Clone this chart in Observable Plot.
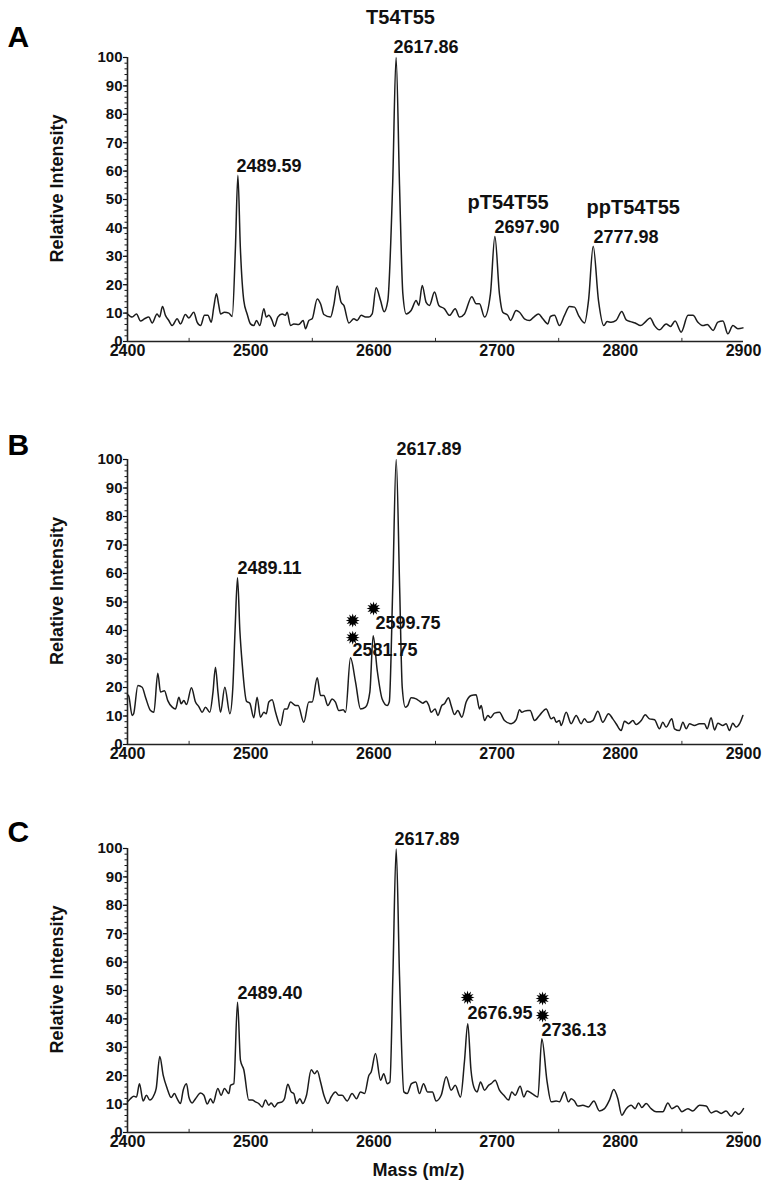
<!DOCTYPE html>
<html>
<head>
<meta charset="utf-8">
<script src="https://cdn.jsdelivr.net/npm/d3@7"></script>
<script src="https://cdn.jsdelivr.net/npm/@observablehq/plot@0.6"></script>
<style>
  html, body { margin: 0; padding: 0; background: #fff; }
  #chart { width: 768px; }
  #chart svg { display: block; }
</style>
</head>
<body>
<div id="chart"></div>
<script>
// ---------- data ----------
const xTicks = [2400, 2500, 2600, 2700, 2800, 2900];
const xMinorTicks = [2450, 2550, 2650, 2750, 2850];
const yTicks = [0, 10, 20, 30, 40, 50, 60, 70, 80, 90, 100];
const yMinorTicks = d3.range(0, 101, 2);

const spectrumA = [
  [2400,9.7],[2403.8,8.6],[2407.3,9.7],[2410.6,7.2],[2413.8,8.0],[2417.3,8.6],[2420,6.5],[2424,9.7],[2426,8.6],[2428.4,12.3],
  [2430.8,9.2],[2433.5,7.4],[2436.3,5.6],[2440.3,8.0],[2443,6.2],[2447,9.5],[2449.8,8.3],[2453.8,10.3],[2456.5,6.8],[2459.3,5.6],
  [2462.5,9.2],[2465.2,9.2],[2468,6.8],[2470,12],[2472.2,16.8],[2474,13],[2475.5,9.7],[2478.7,10.3],[2482.3,10],[2485,8.8],
  [2487.6,33],[2489.6,58.5],[2491.6,33],[2494.4,14.4],[2497.1,9.7],[2499.8,6.2],[2502.5,5.6],[2504.7,7.4],[2507.4,5.6],[2510.7,11.5],
  [2512.6,8.6],[2514.7,9.2],[2517.4,7.4],[2519.3,5.3],[2522,8.6],[2525.5,9.7],[2528.2,9.2],[2529.6,10.3],[2532.3,5.6],[2535,6.2],
  [2539,6.0],[2542.6,7.4],[2544.5,4.5],[2547.2,7.4],[2549.9,8.0],[2554,15],[2556.7,13.3],[2559.4,9.5],[2564.8,8.6],[2567.5,13],
  [2570.2,19.5],[2573.4,13.8],[2575.6,12.7],[2579.7,6.5],[2583.7,8.0],[2586.4,7.4],[2589.7,9.2],[2593.2,8.6],[2595.9,8.6],[2598.6,9.7],
  [2601.8,18.9],[2605.4,14.4],[2608.3,10.5],[2611.3,14.4],[2615.2,55],[2618,100],[2620.8,55],[2623.5,16.8],[2626.2,9.7],[2630.2,10.9],
  [2634.3,14.4],[2636.5,12.7],[2639.2,19.7],[2642.4,13.8],[2645.1,12.7],[2649.2,17.4],[2652.7,12.7],[2657.3,11.5],[2661.4,9.2],[2666,11.5],
  [2669.5,8.6],[2673.5,9.7],[2679.5,15.8],[2683,13.3],[2685.7,13.3],[2689.8,8.6],[2694.6,16.8],[2698.2,37],[2701.9,16.8],[2704.6,10.3],
  [2708.7,9.2],[2710.9,7.4],[2715.5,10.9],[2718.2,10.3],[2722.2,8.0],[2726.3,7.4],[2729.8,8.6],[2733.6,9.7],[2737.1,8.0],[2741.2,6.2],
  [2743.3,8.8],[2746.6,9.2],[2750.6,5.6],[2754.7,9.2],[2758.8,12.3],[2762.8,12.1],[2766.1,9.2],[2771,6.5],[2774.2,14.4],[2778,33.5],
  [2782.3,14.4],[2786.6,5.6],[2789.3,7.0],[2792.6,6.8],[2796.6,7.4],[2801.2,10.6],[2804.8,7.6],[2808.3,7.0],[2812.1,6.5],[2816.4,5.6],
  [2820.2,6.8],[2824.2,8.3],[2827.8,5.6],[2831.8,4.1],[2837.2,6.2],[2840.7,5.3],[2844.5,7.2],[2849.4,3.3],[2855,9.2],[2859,9.2],
  [2863,6.8],[2867.2,5.6],[2870.6,6.0],[2875.3,3.9],[2879.2,6.8],[2883.3,7.2],[2887.3,2.7],[2891.4,5.6],[2895.4,4.5],[2899.5,4.8]
];

const spectrumB = [
  [2400,17.5],[2401,17],[2403.8,10.2],[2405,10.8],[2408.4,20.7],[2411.9,20.1],[2414.6,16.6],[2418.7,11.9],[2421.4,11.3],[2424.6,25],
  [2426.8,18.4],[2430,18.9],[2432.7,15.4],[2436.3,13.1],[2439,12.5],[2441.7,16.6],[2443.6,14.3],[2445.7,15.4],[2447.9,14],[2451.9,19.9],
  [2455.2,14.9],[2457.9,13.3],[2460.6,11.3],[2463.3,13.1],[2466.8,11.3],[2469.3,18],[2471.4,27.1],[2473.5,18],[2475.5,11.3],[2479,20.1],
  [2483.1,10.8],[2485.5,20],[2487.3,40],[2489.3,58.5],[2491.2,40],[2493.1,28.3],[2496.6,15.2],[2499.3,14.5],[2502.5,9.4],[2505.2,16.6],
  [2507.9,9.6],[2510.7,11.3],[2512.6,10.8],[2514.7,14.9],[2517.4,15.7],[2520.2,11.3],[2524.2,6.7],[2527.4,12.5],[2529.6,12.5],[2532.3,14.9],
  [2536.4,13.7],[2538.5,13.7],[2543.1,7.8],[2547.2,14.9],[2549.9,14.9],[2554,23.4],[2556.7,17.2],[2559.4,17.2],[2562.6,13.7],[2566.1,16],
  [2568.8,14.9],[2571.5,11.9],[2575.1,12.2],[2577,11.3],[2581,30.4],[2585.1,21.9],[2589.1,12.5],[2593.2,13.1],[2596.7,18.4],[2599.4,38.2],
  [2602.7,26],[2606.7,16],[2610.8,13.7],[2612.5,15],[2615.3,55],[2618.1,100],[2620.9,55],[2623,20],[2625.5,13.1],[2627.5,13.7],
  [2630.2,16.4],[2634.3,16],[2637,15.2],[2639.7,14.5],[2642.4,15.2],[2644.6,13.7],[2646.5,11.3],[2649.7,12.5],[2651.9,10.2],[2655.1,13.7],
  [2657.3,14.3],[2660.5,16.4],[2662.7,13.7],[2665.4,10.5],[2668.1,11.9],[2671.4,9.6],[2674.9,14.9],[2679,17.2],[2683,17.5],[2685.7,12.5],
  [2687.1,13.7],[2689.8,8.4],[2692.5,10.2],[2694.6,9.4],[2697.9,11],[2701.9,11.3],[2706,8.4],[2711.4,7.3],[2715.5,8.7],[2718.2,12.2],
  [2720.1,11.3],[2722.2,11.7],[2725,11.9],[2726.8,11.9],[2730.4,8.4],[2734.4,10.2],[2739.8,12.5],[2743.9,9],[2746.1,9.6],[2748,7.8],
  [2750.6,8.4],[2752,6.7],[2756.1,11.3],[2760.1,7.3],[2764.2,10.2],[2768.2,7.3],[2770.9,9],[2773.6,7.8],[2777.7,8.4],[2781.8,11.7],
  [2785.8,7.8],[2790.4,10.8],[2793.9,9],[2796.6,7.3],[2800.7,4.9],[2803.4,8.2],[2806.7,7.3],[2810.2,8.4],[2812.9,7],[2817,8.4],
  [2820.2,10.4],[2823.7,9],[2827.8,8.7],[2831.8,5.5],[2834.5,7.8],[2837.2,6.1],[2841.8,9],[2844,5.5],[2848,4.9],[2850.8,7.8],
  [2853.5,5.5],[2856.2,7.3],[2860.2,6.7],[2864.3,7.3],[2868.3,7.3],[2870.5,5.5],[2873.7,9.4],[2876.5,5.1],[2879.2,7.5],[2883.2,6.7],
  [2885.9,7.3],[2888.6,4.9],[2891.3,7.5],[2894,6.1],[2896.8,7.3],[2899.5,10.2]
];

const spectrumC = [
  [2400,10.8],[2402.4,11.9],[2405.1,12.8],[2407.3,12.5],[2409.7,17.2],[2412.7,11.1],[2415.4,13.1],[2418.1,11.4],[2421.4,13.1],[2423.3,15.5],
  [2426.2,26.8],[2429,20.1],[2432.2,15.5],[2435.4,12.3],[2438.1,13.7],[2440.3,11.9],[2443,10.2],[2445.2,14.9],[2447.9,17.2],[2449.8,12.5],
  [2452.5,10.4],[2455.2,11.9],[2459.3,13.9],[2462,13.1],[2464.7,10],[2467.4,11.9],[2469.5,10.4],[2473.3,15.5],[2476,13.1],[2478.7,15.5],
  [2482.3,13.7],[2483.6,16.6],[2486.3,17.2],[2489.3,45.9],[2491.7,25.4],[2494.4,22.1],[2498.5,11.4],[2501.2,11.4],[2503.9,10.8],[2506.6,10.2],
  [2509.3,9],[2512,11.4],[2514.7,9.6],[2516.6,10.4],[2519.3,9],[2522,10.4],[2525.5,10.8],[2527.4,11.9],[2530.1,17],[2532.8,14.3],
  [2535,13.7],[2537.2,10.2],[2539.9,11.9],[2542.3,10.2],[2545.3,13.1],[2549.1,22.1],[2551.8,20.7],[2554,21.7],[2556.7,17.8],[2559.4,13.1],
  [2562.6,10.2],[2565.3,12.5],[2568.8,14.3],[2571.5,13.1],[2574.2,13.1],[2578.3,11.1],[2582.3,13.7],[2585.9,11.9],[2589.1,14.3],[2592.4,13.7],
  [2595.9,20.1],[2597.8,21.3],[2601.3,27.8],[2605.4,18.4],[2608,20.7],[2610.8,17.2],[2613,17.8],[2615.4,55],[2618.1,99.8],[2620.8,55],
  [2624.3,14.3],[2627,13.7],[2630.5,17.2],[2634,17.8],[2637,13.7],[2640.3,17.2],[2643.5,14.3],[2647.5,14.3],[2650.5,11.1],[2654.6,13.1],
  [2658.7,19.6],[2662.7,14.9],[2666,16.6],[2670.3,12.5],[2673.5,25],[2676.2,38.3],[2678.8,22],[2681.1,16],[2683.8,14.3],[2686.5,17.8],
  [2689.8,14.9],[2693,16.6],[2695.2,17.2],[2698.4,18.4],[2701.9,14.9],[2705.5,13.1],[2709.3,11.4],[2711.9,14.3],[2714.7,13.1],[2718.7,16.3],
  [2721.7,12.5],[2724.4,14.6],[2729,13.5],[2733.1,12.5],[2736.3,33],[2740.6,17.8],[2743.9,10.8],[2747.9,11.1],[2750.6,10.8],[2754.7,14.3],
  [2757.9,10.8],[2760.1,11.9],[2762.8,11.1],[2765.5,9.3],[2769.6,9.6],[2774.2,9],[2778.5,11.1],[2783.1,7.6],[2787.2,8.4],[2791.2,11.4],
  [2794.7,15.1],[2798,11.9],[2801.2,6.1],[2804.8,8.4],[2808.8,9.6],[2812.1,8.4],[2814.8,10.4],[2817.5,8.8],[2821,10.2],[2825,8.4],
  [2829.1,7.3],[2834.5,7.3],[2838.6,10.4],[2841.8,8.4],[2846.2,9.3],[2850,7.3],[2854.8,8.4],[2858.9,7.6],[2864.3,9.6],[2869.7,9.3],
  [2873.8,6.9],[2877.8,7.6],[2881.9,6.7],[2885.9,7.6],[2890,5.7],[2893.3,7.3],[2896,6.4],[2900,8.4]
];

// peak labels: [mass at label's left edge, intensity at label centre, text]
const massLabelsA = [[2615.9,103.5,"2617.86"],[2488.5,61.6,"2489.59"],[2697.9,40.1,"2697.90"],[2778.3,36.6,"2777.98"]];
const peptideLabelsA = [[2676,48.9,"pT54T55"],[2772.6,47.2,"ppT54T55"]];
const titleLabelsA = [[2621.6,114,"T54T55"]];
const massLabelsB = [[2618.3,103.5,"2617.89"],[2489.3,61.8,"2489.11"],[2601.3,42.5,"2599.75"],[2582.6,33,"2581.75"]];
const massLabelsC = [[2616.7,103.2,"2617.89"],[2489.3,48.9,"2489.40"],[2676,41.9,"2676.95"],[2736,35.9,"2736.13"]];
// asterisk-like markers: [mass, intensity]
const starsB = [[2582.8,43.5],[2582.8,37.5],[2599.7,47.7]];
const starsC = [[2676,47.5],[2736.9,47.2],[2736.9,41.2]];

// ---------- drawing ----------
const FONT = "'Liberation Sans', Arial, Helvetica, sans-serif";

const burst = {
  draw(context, size) {
    const R = Math.sqrt(size / Math.PI), r = R * 0.55, n = 12;
    for (let i = 0; i < 2 * n; i++) {
      const a = (i * Math.PI) / n - Math.PI / 2;
      const rr = i % 2 === 0 ? R : r;
      const x = rr * Math.cos(a), y = rr * Math.sin(a);
      if (i === 0) context.moveTo(x, y); else context.lineTo(x, y);
    }
    context.closePath();
  }
};

function panel({spectrum, massLabels, peptideLabels = [], titleLabels = [], stars = [], letter, letterDy, height, marginTop, marginBottom, xTitle}) {
  const marks = [
    Plot.axisY({ticks: yMinorTicks, tickSize: 2.5, tickFormat: () => "", label: null, strokeWidth: 1}),
    Plot.axisY({ticks: yTicks, tickSize: 4, tickPadding: 1, tickFormat: d => String(d), fontSize: 15, fontWeight: "bold", label: null, strokeWidth: 1.2}),
    Plot.axisX({ticks: xTicks, tickSize: 0, tickPadding: 3, tickFormat: d => String(d), fontSize: 16, fontWeight: "bold", label: null}),
    Plot.ruleX(xMinorTicks, {y1: 0, y2: 1.1, stroke: "#333", strokeWidth: 1}),
    Plot.ruleY([0], {stroke: "#222", strokeWidth: 1.6}),
    Plot.ruleX([2400], {stroke: "#222", strokeWidth: 1.6}),
    Plot.line(spectrum, {x: d => d[0], y: d => d[1], curve: "monotone-x", stroke: "#1c1c1c", strokeWidth: 1.5, strokeLinejoin: "round"}),
    Plot.text(massLabels, {x: d => d[0], y: d => d[1], text: d => d[2], textAnchor: "start", lineAnchor: "middle", fontSize: 18, fontWeight: "bold", fill: "#111"}),
    Plot.text(peptideLabels, {x: d => d[0], y: d => d[1], text: d => d[2], textAnchor: "start", lineAnchor: "middle", fontSize: 20, fontWeight: "bold", fill: "#111"}),
    Plot.text(titleLabels, {x: d => d[0], y: d => d[1], text: d => d[2], textAnchor: "middle", lineAnchor: "middle", fontSize: 20, fontWeight: "bold", fill: "#111"}),
    Plot.dot(stars, {x: d => d[0], y: d => d[1], symbol: burst, r: 7, fill: "#000", stroke: "none"}),
    Plot.text([letter], {frameAnchor: "top-left", textAnchor: "start", lineAnchor: "middle", dx: -120, dy: letterDy, fontSize: 30, fontWeight: "bold", fill: "#000"}),
    Plot.text(["Relative Intensity"], {frameAnchor: "left", textAnchor: "middle", lineAnchor: "middle", rotate: -90, dx: -70, dy: -11, fontSize: 18, fontWeight: "bold", fill: "#111"})
  ];
  if (xTitle) marks.push(Plot.text([xTitle], {frameAnchor: "bottom", textAnchor: "middle", lineAnchor: "middle", dx: -17, dy: 38, fontSize: 18, fontWeight: "bold", fill: "#111"}));
  return Plot.plot({
    width: 768, height, marginTop, marginBottom, marginLeft: 127, marginRight: 25,
    x: {domain: [2400, 2900]},
    y: {domain: [0, 100]},
    style: {fontFamily: FONT, background: "#fff", color: "#111", overflow: "visible"},
    marks
  });
}

const root = document.getElementById("chart");
root.append(panel({spectrum: spectrumA, massLabels: massLabelsA, peptideLabels: peptideLabelsA, titleLabels: titleLabelsA, letter: "A", letterDy: -20, height: 385, marginTop: 57, marginBottom: 44}));
root.append(panel({spectrum: spectrumB, massLabels: massLabelsB, stars: starsB, letter: "B", letterDy: -14, height: 395, marginTop: 74, marginBottom: 36}));
root.append(panel({spectrum: spectrumC, massLabels: massLabelsC, stars: starsC, letter: "C", letterDy: -16, height: 410, marginTop: 68, marginBottom: 58, xTitle: "Mass (m/z)"}));
</script>
</body>
</html>
